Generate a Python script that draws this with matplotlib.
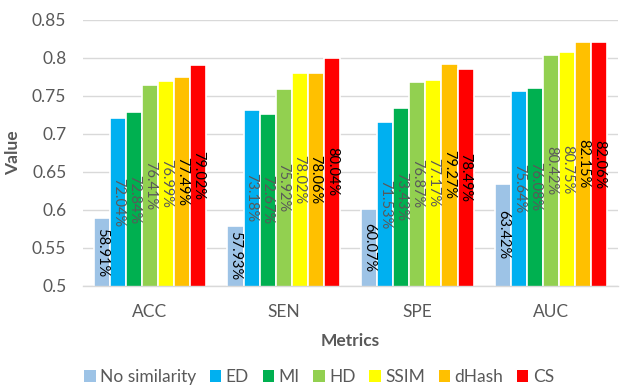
import matplotlib
matplotlib.use("Agg")
import matplotlib.pyplot as plt
from matplotlib.patches import Patch
import numpy as np

categories = ["ACC", "SEN", "SPE", "AUC"]
series_names = ["No similarity", "ED", "MI", "HD", "SSIM", "dHash", "CS"]
no_similarity = [0.5891, 0.5793, 0.6007, 0.6342]
ed = [0.7204, 0.7318, 0.7153, 0.7564]
mi = [0.7284, 0.7267, 0.7343, 0.7608]
hd = [0.7641, 0.7592, 0.7687, 0.8042]
ssim = [0.7699, 0.7802, 0.7717, 0.8075]
dhash = [0.7749, 0.7806, 0.7927, 0.8215]
cs = [0.7902, 0.8004, 0.7849, 0.8206]
series_values = [no_similarity, ed, mi, hd, ssim, dhash, cs]
colors = ["#9DC3E6", "#00B0F0", "#00B050", "#92D050", "#FFFF00", "#FFC000", "#FF0000"]
label_colors = ["#000000", "#595959", "#595959", "#595959", "#595959", "#000000", "#000000"]
yticks = [0.5, 0.55, 0.6, 0.65, 0.7, 0.75, 0.8, 0.85]
ytick_labels = ["0.5", "0.55", "0.6", "0.65", "0.7", "0.75", "0.8", "0.85"]

plt.rcParams['font.family'] = ['Lato', 'DejaVu Sans']
gray = "#595959"

fig = plt.figure(figsize=(6.22, 3.86), dpi=100)
ax = fig.add_axes([83/622, (386-286)/386, (618-83)/622, (286-20)/386])

x = np.arange(len(categories))
w = 0.12
n = len(series_names)
for i, (name, vals, c, lc) in enumerate(zip(series_names, series_values, colors, label_colors)):
    pos = x + (i - (n - 1) / 2) * w
    ax.bar(pos, vals, width=w, bottom=0, color=c, edgecolor="white", linewidth=1.2, label=name, zorder=2)
    for p, v in zip(pos, vals):
        ax.text(p, (0.5 + v) / 2, f"{v*100:.2f}%", rotation=-90, ha="center", va="center",
                fontsize=10.5, color=lc, zorder=3)

ax.set_ylim(0.5, 0.85)
ax.set_xlim(-0.5, 3.5)
ax.set_yticks(yticks)
ax.set_yticklabels(ytick_labels)
ax.set_xticks(x)
ax.set_xticklabels(categories)
ax.tick_params(axis="both", length=0, labelsize=12.5, colors=gray)
ax.tick_params(axis="x", pad=13)
ax.tick_params(axis="y", pad=12)
ax.grid(axis="y", color="#D9D9D9", linewidth=1, zorder=0)
ax.set_axisbelow(True)
for s in ["top", "right", "left"]:
    ax.spines[s].set_visible(False)
ax.spines["bottom"].set_color("#D9D9D9")
ax.spines["bottom"].set_linewidth(1)

ax.set_ylabel("Value", fontsize=12.5, fontweight="bold", color=gray, labelpad=8)
ax.set_xlabel("Metrics", fontsize=12.5, fontweight="bold", color=gray, labelpad=9)

hs = [Patch(facecolor=c, edgecolor="none") for c in colors]
fig.legend(hs, series_names, loc="lower center", bbox_to_anchor=(0.513, -0.038), ncol=7, frameon=False,
           fontsize=12.5, labelcolor=gray, handlelength=0.65, handleheight=0.65, handletextpad=0.25,
           columnspacing=0.8)

fig.savefig("out.png", dpi=100)
